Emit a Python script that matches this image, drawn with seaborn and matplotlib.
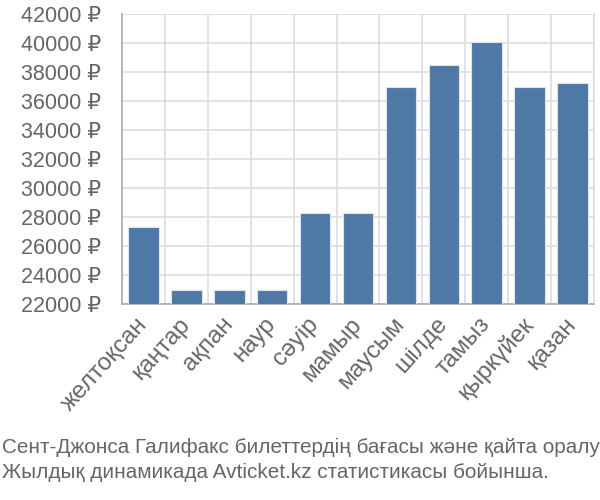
import matplotlib
matplotlib.use("Agg")
import matplotlib.pyplot as plt
import seaborn as sns
import pandas as pd
import numpy as np
from matplotlib.ticker import FixedLocator

months = ["желтоқсан", "қаңтар", "ақпан", "наур", "сәуір", "мамыр",
          "маусым", "шілде", "тамыз", "қыркүйек", "қазан"]
prices = [27300, 23000, 23000, 23000, 28300, 28300,
          37000, 38500, 40050, 37000, 37250]
yticks = list(range(22000, 42001, 2000))
caption = ["Сент-Джонса Галифакс билеттердің бағасы және қайта оралу",
           "Жылдық динамикада Avticket.kz статистикасы бойынша."]

sns.set_theme(style="white")
plt.rcParams["font.family"] = ["Liberation Sans", "DejaVu Sans"]

df = pd.DataFrame({"month": months, "price": prices})

fig = plt.figure(figsize=(6, 5), dpi=100)
ax = fig.add_axes([122/600, 1-304/500, (594-122)/600, (304-14)/500])

sns.barplot(data=df, x="month", y="price", color="#4e79a7", saturation=1,
            width=0.71, edgecolor="#dbe4ee", linewidth=0.8, ax=ax, zorder=3)

ax.set_ylim(22000, 42000)
ax.set_xlim(-0.5, len(months) - 0.5)
ax.set_yticks(yticks)
ax.set_yticklabels([f"{v} ₽" for v in yticks], fontsize=15.5, color="#666666")
ax.set_xlabel("")
ax.set_ylabel("")

ax.xaxis.set_minor_locator(FixedLocator(np.arange(-0.5, len(months), 1.0)))
ax.tick_params(axis="x", which="major", length=0, pad=12)
ax.tick_params(axis="x", which="minor", length=13, color="#dddddd", width=1.2)
ax.tick_params(axis="y", which="major", length=14, color="#dddddd", width=1.2, pad=1)
ax.set_xticklabels(months, rotation=48, ha="right", va="center",
                   rotation_mode="anchor", fontsize=17.5, color="#666666")
for lbl in ax.get_xticklabels():
    lbl.set_x(lbl.get_position()[0])

ax.grid(True, axis="y", which="major", color="#dddddd", linewidth=1.2, zorder=0)
ax.grid(True, axis="x", which="minor", color="#dddddd", linewidth=1.2, zorder=0)
ax.set_axisbelow(True)

ax.spines["top"].set_visible(False)
ax.spines["right"].set_color("#dddddd")
ax.spines["right"].set_linewidth(1.2)
ax.spines["left"].set_color("#aaaaaa")
ax.spines["left"].set_linewidth(1.2)
ax.spines["bottom"].set_color("#aaaaaa")
ax.spines["bottom"].set_linewidth(1.2)

t1 = fig.text(0.003, 1-447/500, caption[0], fontsize=15.5, color="#666666",
              va="center", ha="left")
t2 = fig.text(0.003, 1-473/500, caption[1], fontsize=15.5, color="#666666",
              va="center", ha="left")
fig.canvas.draw()
r = fig.canvas.get_renderer()
w = t1.get_window_extent(r).width
size = 15.5 * 596 / w
t1.set_fontsize(size)
t2.set_fontsize(size)

fig.savefig("out.png", dpi=100)
